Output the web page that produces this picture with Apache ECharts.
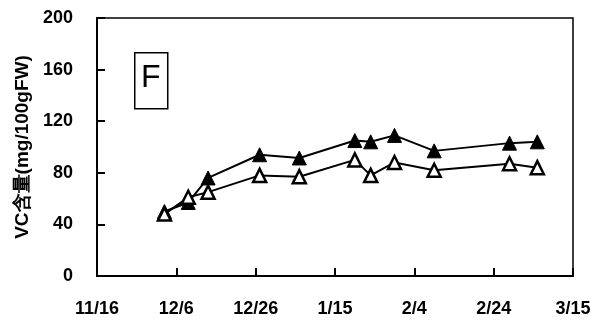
<!DOCTYPE html>
<html><head><meta charset="utf-8">
<script src="https://cdn.jsdelivr.net/npm/echarts@6/dist/echarts.min.js"></script>
<style>html,body{margin:0;padding:0;background:#fff}#c{width:603px;height:320px}</style>
</head><body><div id="c"></div>
<script>
const dates = ['12/3','12/9','12/14','12/27','1/6','1/20','1/24','1/30','2/9','2/28','3/6'];
const filledVals = [50, 57, 76, 94, 91.5, 105, 104, 109, 97, 103, 104];
const hollowVals = [48, 61, 65, 78, 77, 90, 78, 88, 82, 87, 84];
const xTickLabels = ['11/16','12/6','12/26','1/15','2/4','2/24','3/15'];
const yTicks = [0, 40, 80, 120, 160, 200];
const yName = 'VC含量(mg/100gFW)';
const panelLabel = 'F';

function dayOffset(s){
  const [m,d] = s.split('/').map(Number);
  const y = m >= 11 ? 2003 : 2004;
  return Math.round((Date.UTC(y, m-1, d) - Date.UTC(2003, 10, 16)) / 86400000);
}
const xs = dates.map(dayOffset);
const filled = xs.map((x,i)=>[x, filledVals[i]]);
const hollow = xs.map((x,i)=>[x, hollowVals[i]]);

const font = '"Liberation Sans", Arial, sans-serif';
const chart = echarts.init(document.getElementById('c'), null, {renderer:'canvas'});
chart.setOption({
  animation:false,
  backgroundColor:'#fff',
  grid:{left:97, right:30, top:18, bottom:44, show:true, borderColor:'#000', borderWidth:1.5, backgroundColor:'transparent'},
  xAxis:{type:'value', min:0, max:(xTickLabels.length-1)*20, interval:20,
    axisLine:{lineStyle:{color:'#000', width:2}},
    axisTick:{inside:true, length:8, lineStyle:{color:'#000', width:2}},
    splitLine:{show:false},
    axisLabel:{color:'#000', fontSize:18, fontWeight:'bold', fontFamily:font, margin:24,
      formatter:v=>xTickLabels[Math.round(v/20)]}},
  yAxis:{type:'value', min:yTicks[0], max:yTicks[yTicks.length-1], interval:40,
    name:yName, nameLocation:'middle', nameGap:65, nameRotate:90,
    nameTextStyle:{color:'#000', fontSize:19, fontWeight:'bold', fontFamily:font},
    axisLine:{show:true, lineStyle:{color:'#000', width:2}},
    axisTick:{show:true, inside:true, length:8, lineStyle:{color:'#000', width:2}},
    splitLine:{show:false},
    axisLabel:{color:'#000', fontSize:18, fontWeight:'bold', fontFamily:font, margin:24}},
  series:[
    {type:'line', data:filled, symbol:'triangle', symbolSize:14, z:2,
     lineStyle:{color:'#000', width:2}, itemStyle:{color:'#000', borderColor:'#000', borderWidth:1}},
    {type:'line', data:hollow, symbol:'triangle', symbolSize:13, z:3,
     lineStyle:{color:'#000', width:2}, itemStyle:{color:'#fff', borderColor:'#000', borderWidth:2.5}}
  ],
  graphic:[
    {type:'rect', left:134, top:52, shape:{width:33, height:56}, style:{fill:'#fff', stroke:'#000', lineWidth:1.5}},
    {type:'text', left:141, top:62, style:{text:panelLabel, fontSize:32, fontFamily:font, fill:'#000'}}
  ]
});
</script></body></html>
